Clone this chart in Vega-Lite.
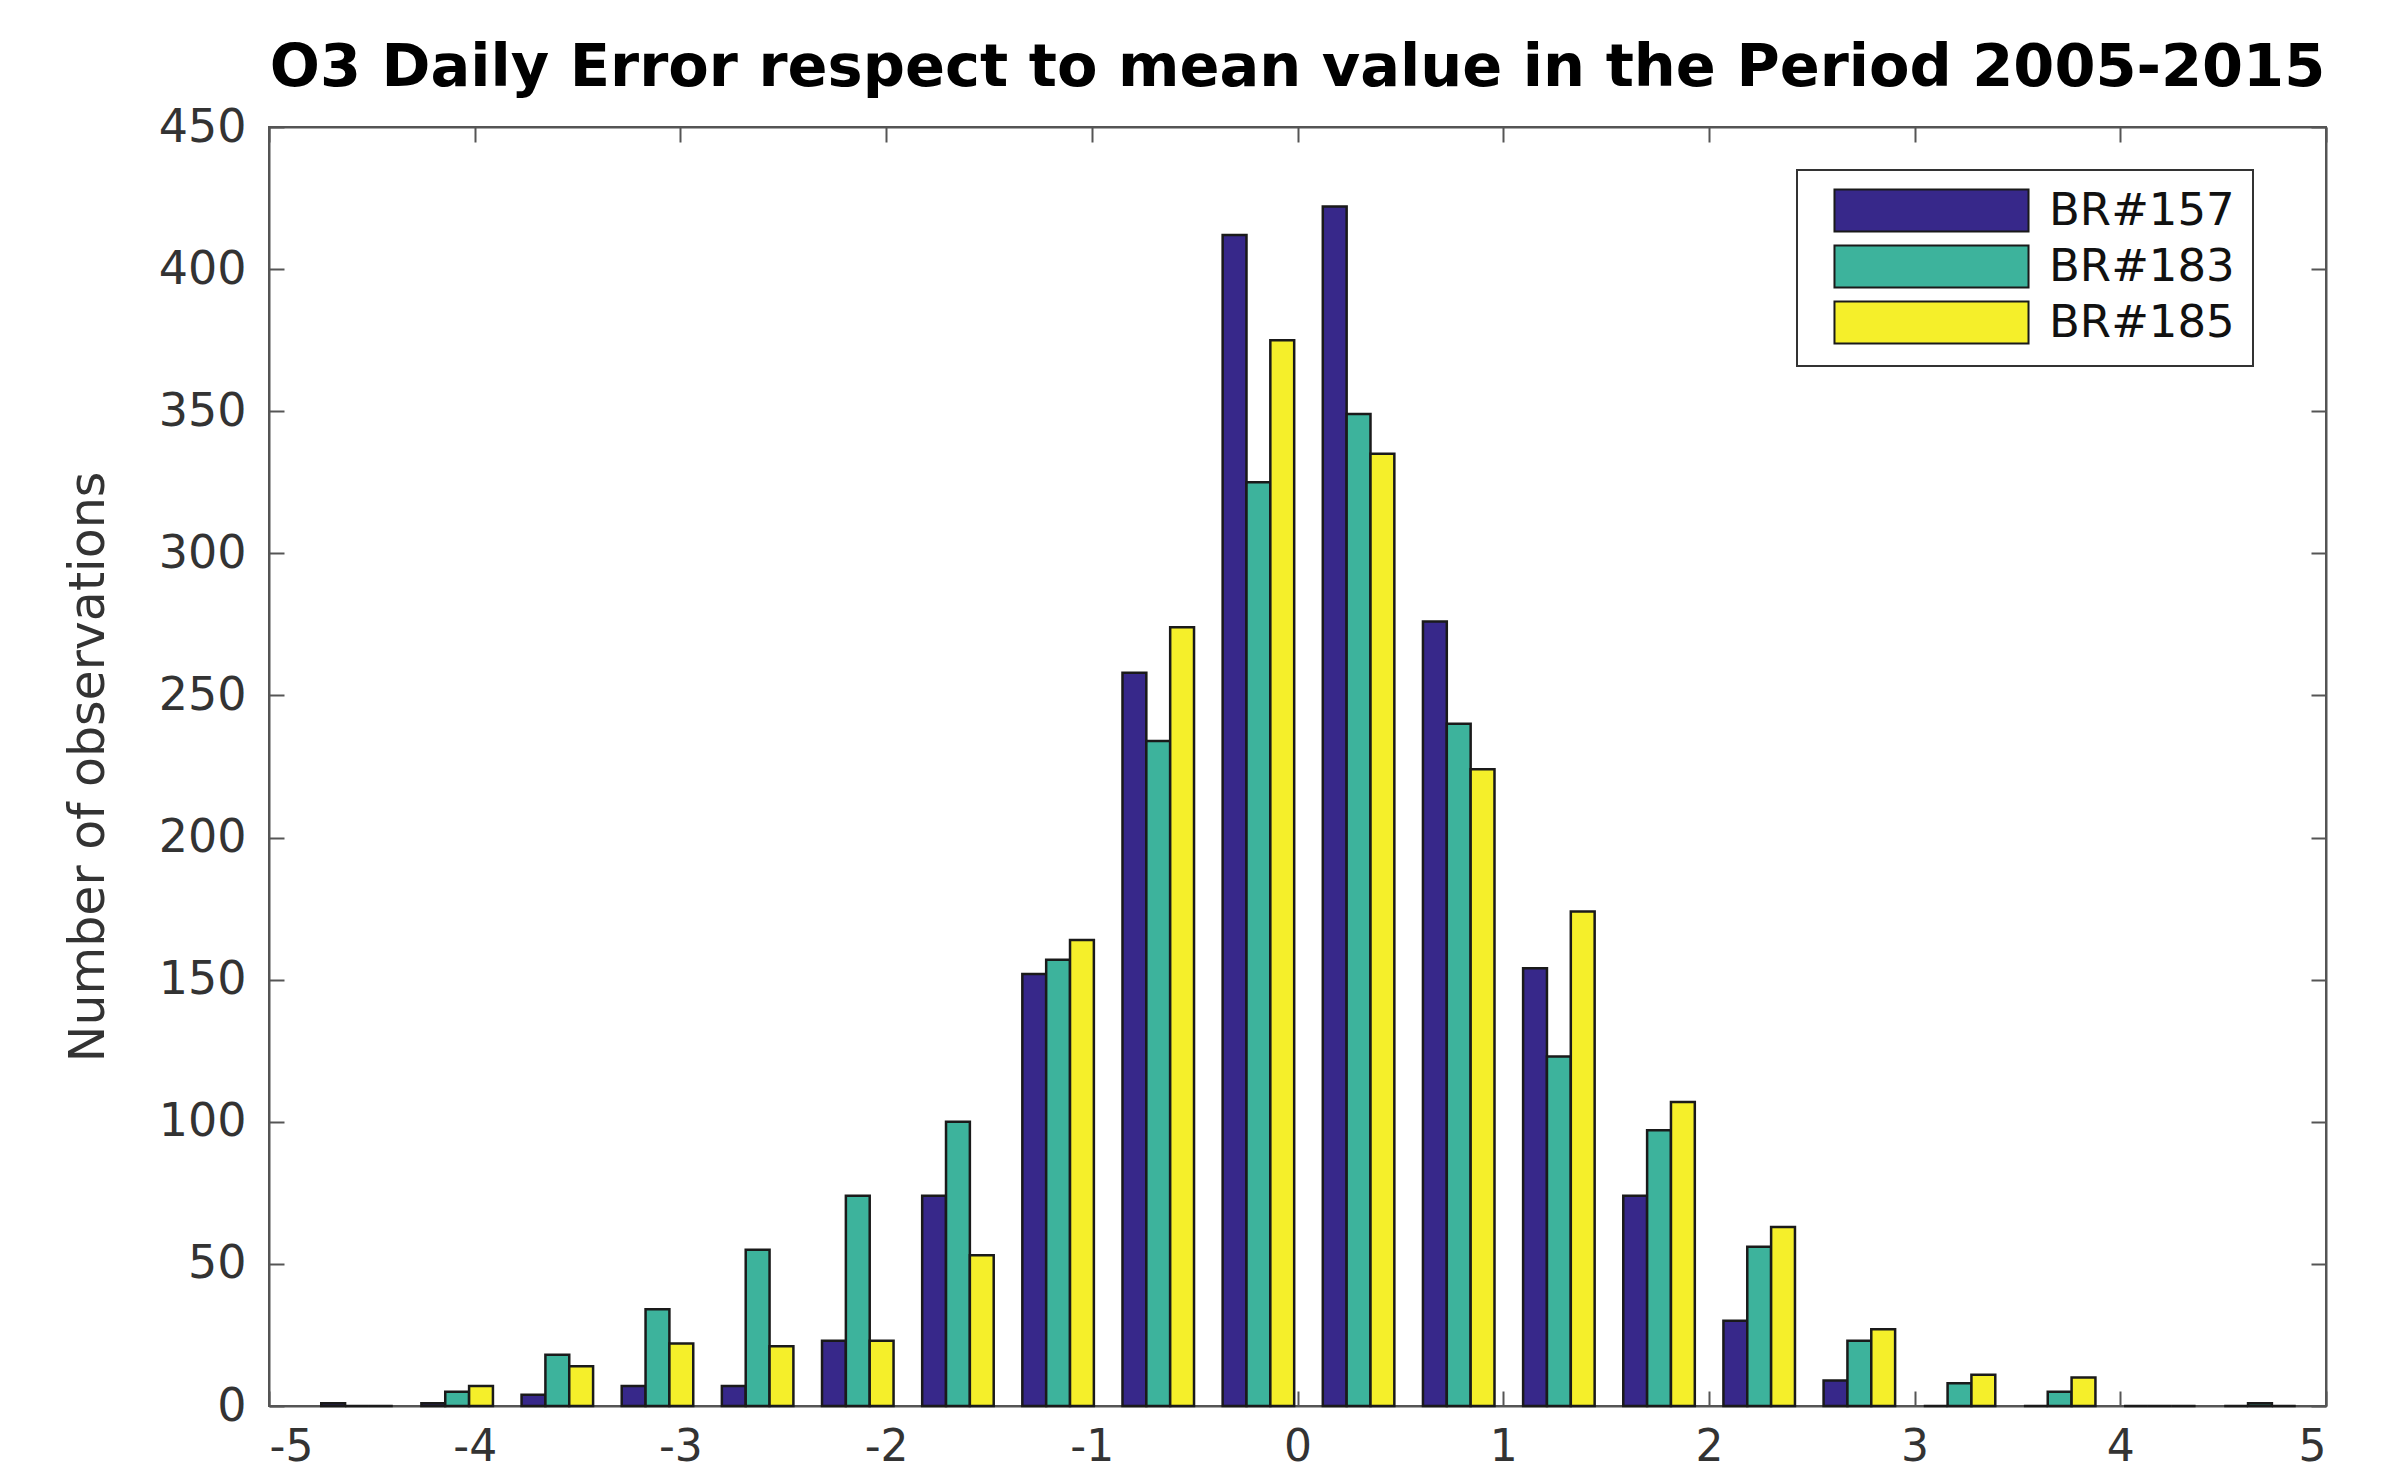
{
  "$schema": "https://vega.github.io/schema/vega-lite/v6.json",
  "width": 2057,
  "height": 1279,
  "autosize": {"type": "none"},
  "padding": {"left": 269, "top": 127, "right": 58, "bottom": 70},
  "background": "white",
  "title": {
    "text": "O3 Daily Error respect to mean value in the Period 2005-2015",
    "font": "DejaVu Sans",
    "fontSize": 59,
    "fontWeight": "bold",
    "color": "#000000",
    "anchor": "middle",
    "baseline": "alphabetic",
    "offset": -41
  },
  "config": {
    "view": {"stroke": "#555555", "strokeWidth": 2},
    "axis": {
      "labelFont": "DejaVu Sans",
      "labelFontSize": 46,
      "labelColor": "#333333",
      "domainColor": "#555555",
      "domainWidth": 2,
      "tickColor": "#555555",
      "tickWidth": 2,
      "grid": false
    },
    "legend": {"strokeWidth": 2}
  },
  "data": {
    "values": [
      {"bin": -4.572, "series": "BR#157", "count": 1},
      {"bin": -4.572, "series": "BR#183", "count": 0},
      {"bin": -4.572, "series": "BR#185", "count": 0},
      {"bin": -4.085, "series": "BR#157", "count": 1},
      {"bin": -4.085, "series": "BR#183", "count": 5},
      {"bin": -4.085, "series": "BR#185", "count": 7},
      {"bin": -3.598, "series": "BR#157", "count": 4},
      {"bin": -3.598, "series": "BR#183", "count": 18},
      {"bin": -3.598, "series": "BR#185", "count": 14},
      {"bin": -3.111, "series": "BR#157", "count": 7},
      {"bin": -3.111, "series": "BR#183", "count": 34},
      {"bin": -3.111, "series": "BR#185", "count": 22},
      {"bin": -2.624, "series": "BR#157", "count": 7},
      {"bin": -2.624, "series": "BR#183", "count": 55},
      {"bin": -2.624, "series": "BR#185", "count": 21},
      {"bin": -2.138, "series": "BR#157", "count": 23},
      {"bin": -2.138, "series": "BR#183", "count": 74},
      {"bin": -2.138, "series": "BR#185", "count": 23},
      {"bin": -1.651, "series": "BR#157", "count": 74},
      {"bin": -1.651, "series": "BR#183", "count": 100},
      {"bin": -1.651, "series": "BR#185", "count": 53},
      {"bin": -1.164, "series": "BR#157", "count": 152},
      {"bin": -1.164, "series": "BR#183", "count": 157},
      {"bin": -1.164, "series": "BR#185", "count": 164},
      {"bin": -0.677, "series": "BR#157", "count": 258},
      {"bin": -0.677, "series": "BR#183", "count": 234},
      {"bin": -0.677, "series": "BR#185", "count": 274},
      {"bin": -0.19, "series": "BR#157", "count": 412},
      {"bin": -0.19, "series": "BR#183", "count": 325},
      {"bin": -0.19, "series": "BR#185", "count": 375},
      {"bin": 0.297, "series": "BR#157", "count": 422},
      {"bin": 0.297, "series": "BR#183", "count": 349},
      {"bin": 0.297, "series": "BR#185", "count": 335},
      {"bin": 0.784, "series": "BR#157", "count": 276},
      {"bin": 0.784, "series": "BR#183", "count": 240},
      {"bin": 0.784, "series": "BR#185", "count": 224},
      {"bin": 1.271, "series": "BR#157", "count": 154},
      {"bin": 1.271, "series": "BR#183", "count": 123},
      {"bin": 1.271, "series": "BR#185", "count": 174},
      {"bin": 1.758, "series": "BR#157", "count": 74},
      {"bin": 1.758, "series": "BR#183", "count": 97},
      {"bin": 1.758, "series": "BR#185", "count": 107},
      {"bin": 2.245, "series": "BR#157", "count": 30},
      {"bin": 2.245, "series": "BR#183", "count": 56},
      {"bin": 2.245, "series": "BR#185", "count": 63},
      {"bin": 2.732, "series": "BR#157", "count": 9},
      {"bin": 2.732, "series": "BR#183", "count": 23},
      {"bin": 2.732, "series": "BR#185", "count": 27},
      {"bin": 3.218, "series": "BR#157", "count": 0},
      {"bin": 3.218, "series": "BR#183", "count": 8},
      {"bin": 3.218, "series": "BR#185", "count": 11},
      {"bin": 3.705, "series": "BR#157", "count": 0},
      {"bin": 3.705, "series": "BR#183", "count": 5},
      {"bin": 3.705, "series": "BR#185", "count": 10},
      {"bin": 4.192, "series": "BR#157", "count": 0},
      {"bin": 4.192, "series": "BR#183", "count": 0},
      {"bin": 4.192, "series": "BR#185", "count": 0},
      {"bin": 4.679, "series": "BR#157", "count": 0},
      {"bin": 4.679, "series": "BR#183", "count": 1},
      {"bin": 4.679, "series": "BR#185", "count": 0}
    ]
  },
  "layer": [
    {
      "mark": {"type": "bar", "stroke": "#1a1a1a", "strokeWidth": 2.5},
      "encoding": {
        "x": {
          "field": "bin",
          "type": "ordinal",
          "sort": "ascending",
          "scale": {"paddingInner": 0, "paddingOuter": 0.269, "align": 0.704},
          "axis": null
        },
        "xOffset": {
          "field": "series",
          "type": "nominal",
          "scale": {"paddingInner": 0, "paddingOuter": 0.6}
        },
        "y": {
          "field": "count",
          "type": "quantitative",
          "scale": {"domain": [0, 450], "nice": false},
          "axis": {
            "values": [0, 50, 100, 150, 200, 250, 300, 350, 400, 450],
            "tickSize": -15,
            "labelPadding": 38,
            "title": "Number of observations",
            "titleFont": "DejaVu Sans",
            "titleFontSize": 49,
            "titleFontWeight": "normal",
            "titleColor": "#333333",
            "titlePadding": 45
          }
        },
        "color": {
          "field": "series",
          "type": "nominal",
          "scale": {
            "domain": ["BR#157", "BR#183", "BR#185"],
            "range": ["#37288a", "#3db39c", "#f5ef2a"]
          },
          "legend": {
            "title": null,
            "orient": "none",
            "legendX": 1528,
            "legendY": 43,
            "strokeColor": "#333333",
            "fillColor": "#ffffff",
            "padding": 18,
            "symbolType": "M-4.62,-1H4.62V1H-4.62Z",
            "symbolSize": 1764,
            "symbolStrokeColor": "#1a1a1a",
            "symbolStrokeWidth": 2,
            "symbolOpacity": 1,
            "symbolOffset": 94,
            "labelOffset": 95,
            "labelLimit": 400,
            "labelFont": "DejaVu Sans",
            "labelFontSize": 45,
            "labelColor": "#111111",
            "rowPadding": 5
          }
        }
      }
    },
    {
      "mark": {"type": "point", "opacity": 0},
      "encoding": {
        "x": {
          "field": "bin",
          "type": "quantitative",
          "scale": {"domain": [-5, 5], "nice": false, "zero": false},
          "axis": {
            "values": [-5, -4, -3, -2, -1, 0, 1, 2, 3, 4, 5],
            "labelExpr": "datum.value",
            "labelFontSize": 44,
            "tickSize": -15,
            "labelPadding": 34,
            "title": null
          }
        }
      }
    },
    {
      "mark": {"type": "point", "opacity": 0},
      "encoding": {
        "x": {
          "field": "bin",
          "type": "quantitative",
          "scale": {"domain": [-5, 5], "nice": false, "zero": false},
          "axis": {
            "orient": "top",
            "values": [-5, -4, -3, -2, -1, 0, 1, 2, 3, 4, 5],
            "tickSize": -15,
            "labels": false,
            "title": null
          }
        },
        "y": {
          "field": "count",
          "type": "quantitative",
          "axis": {
            "orient": "right",
            "values": [0, 50, 100, 150, 200, 250, 300, 350, 400, 450],
            "tickSize": -15,
            "labels": false,
            "title": null
          }
        }
      }
    }
  ],
  "resolve": {
    "scale": {"x": "independent"},
    "axis": {"x": "independent", "y": "independent"}
  }
}
